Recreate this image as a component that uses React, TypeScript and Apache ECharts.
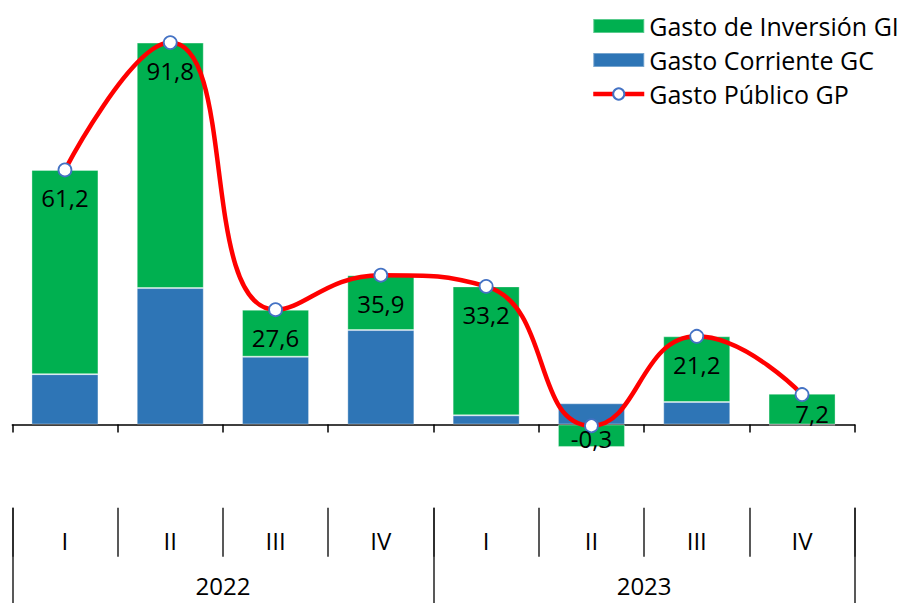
import React, { useEffect, useRef } from "react";
import * as echarts from "echarts";

const quarters = ["I", "II", "III", "IV", "I", "II", "III", "IV"];
const years = ["2022", "2023"];
const gastoCorriente = [12.1, 32.8, 16.3, 22.7, 2.2, 5.1, 5.4, -0.2];
const gastoInversion = [49.1, 59.0, 11.3, 13.2, 31.0, -5.4, 15.8, 7.4];
const gastoPublico = [61.2, 91.8, 27.6, 35.9, 33.2, -0.3, 21.2, 7.2];

const FONT = "'Open Sans', 'Noto Sans', sans-serif";

export default function App() {
  const ref = useRef<HTMLDivElement>(null);
  useEffect(() => {
    if (!ref.current) return;
    const chart = echarts.init(ref.current, undefined, { renderer: "svg" });
    const lineData = gastoPublico.map((v, i) => {
      if (i === 5) return { value: v, label: { distance: -7 } };
      if (i === 7) return { value: v, label: { distance: 0, offset: [10, 0] } };
      return v;
    });
    chart.setOption({
      animation: false,
      textStyle: { fontFamily: FONT },
      legend: {
        orient: "vertical",
        left: 591,
        top: 13,
        padding: 0,
        itemWidth: 51,
        itemHeight: 14,
        itemGap: 8,
        textStyle: { fontSize: 25, lineHeight: 26, color: "#000", fontFamily: FONT },
        data: [
          { name: "Gasto de Inversión GI", icon: "rect" },
          { name: "Gasto Corriente GC", icon: "rect" },
          { name: "Gasto Público GP", lineStyle: { width: 4.5, color: "#FF0000" } },
        ],
      },
      grid: { left: 12.3, right: 47.3, top: 8.5, bottom: 95.3 },
      xAxis: [
        {
          type: "category",
          position: "bottom",
          data: quarters.map((q, i) => q + "_" + i),
          axisLine: { onZero: true, lineStyle: { color: "#000", width: 1.5 } },
          axisTick: { show: true, length: 8, lineStyle: { color: "#000", width: 1.5 } },
          axisLabel: { show: false },
          splitLine: { show: false },
        },
        {
          type: "category",
          position: "bottom",
          data: quarters,
          axisLine: { show: false, onZero: false },
          axisTick: { show: true, length: 49, interval: 0, lineStyle: { color: "#222", width: 1.5 } },
          axisLabel: { show: true, interval: 0, margin: 21, fontSize: 24, lineHeight: 24, color: "#000", fontFamily: FONT },
          splitLine: { show: false },
        },
        {
          type: "category",
          position: "bottom",
          data: years,
          axisLine: { show: false, onZero: false },
          axisTick: { show: true, length: 96, interval: 0, lineStyle: { color: "#222", width: 1.5 } },
          axisLabel: { show: true, interval: 0, margin: 69, fontSize: 24, lineHeight: 18, color: "#000", fontFamily: FONT },
          splitLine: { show: false },
        },
      ],
      yAxis: {
        type: "value",
        min: -20,
        max: 100,
        show: false,
        splitLine: { show: false },
      },
      series: [
        {
          name: "Gasto Corriente GC",
          type: "bar",
          stack: "total",
          barWidth: 67,
          data: gastoCorriente,
          itemStyle: { color: "#2E75B6", borderColor: "rgba(255,255,255,0.35)", borderWidth: 1 },
          z: 2,
        },
        {
          name: "Gasto de Inversión GI",
          type: "bar",
          stack: "total",
          barWidth: 67,
          data: gastoInversion,
          itemStyle: { color: "#00B050", borderColor: "rgba(255,255,255,0.35)", borderWidth: 1 },
          z: 2,
        },
        {
          name: "Gasto Público GP",
          type: "line",
          data: lineData,
          smooth: 0.5,
          clip: false,
          symbol: "circle",
          symbolSize: 13,
          lineStyle: { color: "#FF0000", width: 4.5 },
          itemStyle: { color: "#FFFFFF", borderColor: "#4472C4", borderWidth: 1.8 },
          label: {
            show: true,
            position: "bottom",
            distance: 8.5,
            fontSize: 24,
            color: "#000",
            fontFamily: FONT,
            formatter: (p: any) => String(p.value).replace(".", ","),
          },
          z: 5,
        },
      ],
    });
    return () => chart.dispose();
  }, []);
  return (
    <div
      ref={ref}
      style={{ position: "absolute", left: 0, top: 0, width: 902, height: 603, background: "#fff" }}
    />
  );
}
